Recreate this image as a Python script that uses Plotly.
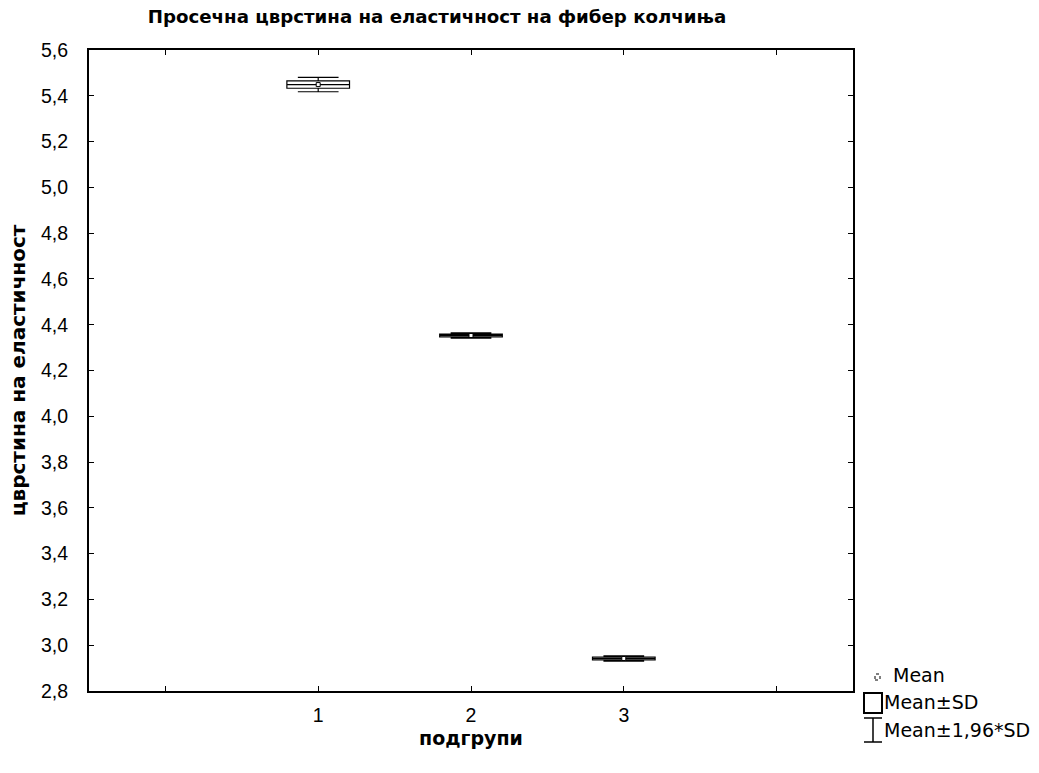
import plotly.graph_objects as go

# Subgroups and their summary statistics (mean, standard deviation)
groups = [1, 2, 3]
group_labels = ["1", "2", "3"]
means = [5.449, 4.353, 2.942]
sds = [0.016, 0.006, 0.006]

y_ticks = [2.8, 3.0, 3.2, 3.4, 3.6, 3.8, 4.0, 4.2, 4.4, 4.6, 4.8, 5.0, 5.2, 5.4, 5.6]

TICK_FONT = "Liberation Sans, Arial, sans-serif"
TEXT_FONT = "DejaVu Sans, Verdana, sans-serif"

fig = go.Figure()

for g, m, s in zip(groups, means, sds):
    fig.add_trace(go.Box(
        x=[g],
        q1=[m - s],
        median=[m],
        q3=[m + s],
        lowerfence=[m - 1.96 * s],
        upperfence=[m + 1.96 * s],
        width=0.41,
        whiskerwidth=0.65,
        fillcolor="white",
        line=dict(color="black", width=1.2),
        showlegend=False,
        hoverinfo="skip",
    ))

# Mean markers
fig.add_trace(go.Scatter(
    x=groups,
    y=means,
    mode="markers",
    marker=dict(symbol="square", size=4, color="white",
                line=dict(color="black", width=1)),
    showlegend=False,
    hoverinfo="skip",
))

fig.update_layout(
    width=1039,
    height=773,
    paper_bgcolor="white",
    plot_bgcolor="white",
    separators=", ",
    margin=dict(l=89, r=186, t=50, b=82),
    font=dict(family=TICK_FONT, color="black", size=19),
    title=dict(
        text="<b>Просечна цврстина на еластичност на фибер колчиња</b>",
        x=437 / 1039, xanchor="center",
        y=1 - 17 / 773, yanchor="middle",
        font=dict(family=TEXT_FONT, size=18.2, color="black"),
    ),
    xaxis=dict(
        range=[-0.5, 4.5],
        tickmode="array",
        tickvals=[0, 1, 2, 3, 4],
        ticktext=["", "1", "2", "3", ""],
        ticks="inside",
        ticklen=5,
        tickcolor="black",
        showgrid=False,
        zeroline=False,
        showline=True,
        linecolor="black",
        linewidth=2,
        mirror="ticks",
        tickfont=dict(family=TICK_FONT, size=19.5),
        ticklabelstandoff=6,
        title=dict(text="<b>подгрупи</b>",
                   font=dict(family=TEXT_FONT, size=19), standoff=6),
    ),
    yaxis=dict(
        range=[2.8, 5.6],
        tickmode="array",
        tickvals=y_ticks,
        tickformat=".1f",
        ticks="inside",
        ticklen=5,
        tickcolor="black",
        showgrid=False,
        zeroline=False,
        showline=True,
        linecolor="black",
        linewidth=2,
        mirror="ticks",
        tickfont=dict(family=TICK_FONT, size=19.5),
        ticklabelstandoff=15,
        title=dict(text="<b>цврстина на еластичност</b>",
                   font=dict(family=TEXT_FONT, size=20), standoff=10),
    ),
)

# Legend drawn beside the plot area
legend_items = [("Mean", 893, 675), ("Mean±SD", 884, 702), ("Mean±1,96*SD", 884, 730)]
for text, xpx, ypx in legend_items:
    fig.add_annotation(
        xref="paper", yref="paper",
        x=(xpx - 89) / 764, y=(691 - ypx) / 641,
        xanchor="left", yanchor="middle",
        xshift=-2,
        text=text, showarrow=False,
        font=dict(family=TEXT_FONT, size=19, color="black"),
    )

def px_x(v):
    return (v - 89) / 764

def px_y(v):
    return (691 - v) / 641

# Mean symbol: small dotted mark
fig.add_shape(type="rect", xref="paper", yref="paper",
              x0=px_x(875), x1=px_x(880), y0=px_y(680), y1=px_y(674),
              line=dict(color="black", width=1, dash="dot"), fillcolor="white")
# Mean±SD symbol: box
fig.add_shape(type="rect", xref="paper", yref="paper",
              x0=px_x(864), x1=px_x(882), y0=px_y(713), y1=px_y(693),
              line=dict(color="black", width=2), fillcolor="white")
# Mean±1,96*SD symbol: whisker
fig.add_shape(type="line", xref="paper", yref="paper",
              x0=px_x(864), x1=px_x(882), y0=px_y(718), y1=px_y(718),
              line=dict(color="black", width=1.5))
fig.add_shape(type="line", xref="paper", yref="paper",
              x0=px_x(873), x1=px_x(873), y0=px_y(718), y1=px_y(742),
              line=dict(color="black", width=1.5))
fig.add_shape(type="line", xref="paper", yref="paper",
              x0=px_x(864), x1=px_x(882), y0=px_y(742), y1=px_y(742),
              line=dict(color="black", width=1.5))

fig.write_html("out.html")
